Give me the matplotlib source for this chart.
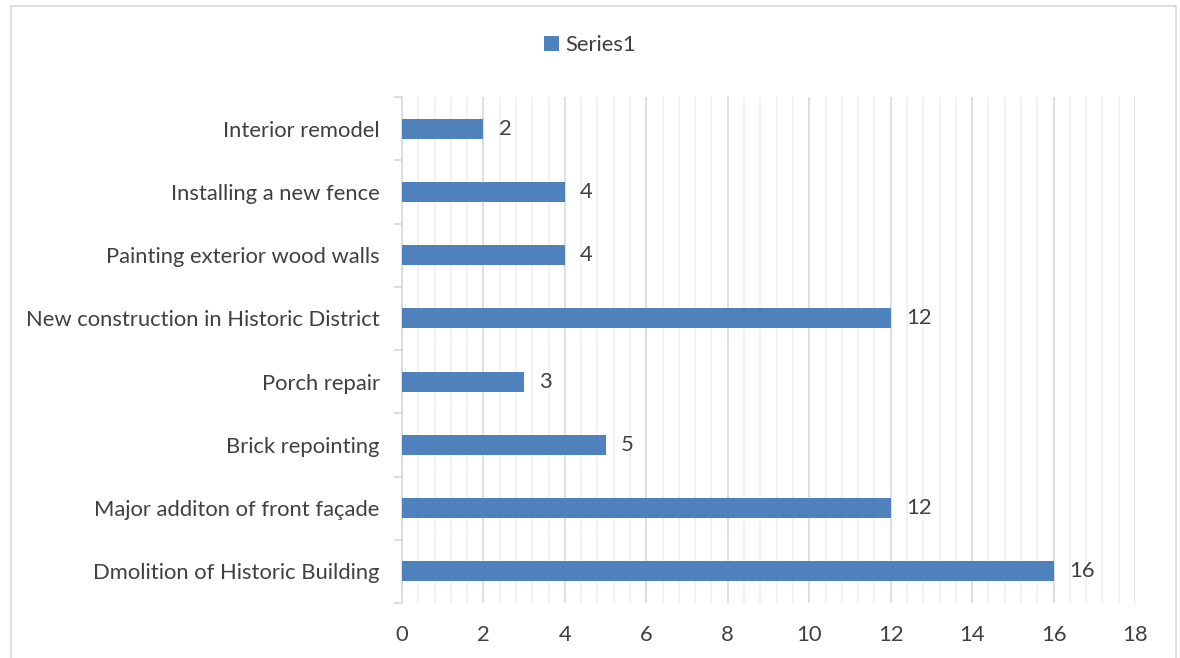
import numpy as np
import matplotlib.pyplot as plt
from matplotlib.patches import Rectangle
from matplotlib.ticker import MultipleLocator

plt.rcParams['font.family'] = ['Lato', 'DejaVu Sans']

categories = ["Dmolition of Historic Building", "Major additon of front façade",
              "Brick repointing", "Porch repair", "New construction in Historic District",
              "Painting exterior wood walls", "Installing a new fence", "Interior remodel"]
values = [16, 12, 5, 3, 12, 4, 4, 2]
series_name = "Series1"

bar_color = "#4F81BD"
text_color = "#404040"
fs = 15.8

fig = plt.figure(figsize=(11.8, 6.58), dpi=100)
ax = fig.add_axes([402 / 1180, 1 - 603 / 658, (1135 - 402) / 1180, (603 - 97) / 658])

y = np.arange(len(categories))
bars = ax.barh(y, values, height=0.32, color=bar_color, label=series_name, zorder=3)

for yi, v in zip(y, values):
    ax.annotate(str(v), (v, yi), xytext=(11, 0), textcoords="offset points",
                va="center", ha="left", fontsize=fs, color=text_color)

ax.set_xlim(0, 18)
ax.set_ylim(-0.5, len(categories) - 0.5)
ax.xaxis.set_major_locator(MultipleLocator(2))
ax.xaxis.set_minor_locator(MultipleLocator(0.4))
ax.grid(axis="x", which="major", color="#D9D9D9", lw=1.2, zorder=0)
ax.grid(axis="x", which="minor", color="#F0F0F0", lw=1.2, zorder=0)

# category labels between boundary ticks
ax.set_yticks(y)
ax.set_yticklabels(categories)
ax.set_yticks(np.arange(-0.5, len(categories), 1), minor=True)
ax.tick_params(axis="y", which="major", length=0, pad=16, labelsize=fs, labelcolor=text_color)
ax.tick_params(axis="y", which="minor", length=6, color="#D9D9D9", width=1.2)
ax.tick_params(axis="x", which="both", length=0, pad=16, labelsize=fs, labelcolor=text_color)

for s in ["top", "right", "bottom"]:
    ax.spines[s].set_visible(False)
ax.spines["left"].set_color("#D9D9D9")
ax.spines["left"].set_linewidth(1.2)

fig.legend(handles=[bars], labels=[series_name], loc="center", bbox_to_anchor=(0.5, 1 - 45 / 658),
           frameon=False, fontsize=fs, handlelength=0.7, handleheight=0.7, handletextpad=0.3,
           labelcolor=text_color)

fig.patches.append(Rectangle((11 / 1180, -0.05), (1176 - 11) / 1180, 1.05 - 6 / 658,
                             transform=fig.transFigure, fill=False, edgecolor="#D9D9D9", lw=1.2))

fig.savefig("out.png", dpi=100)
